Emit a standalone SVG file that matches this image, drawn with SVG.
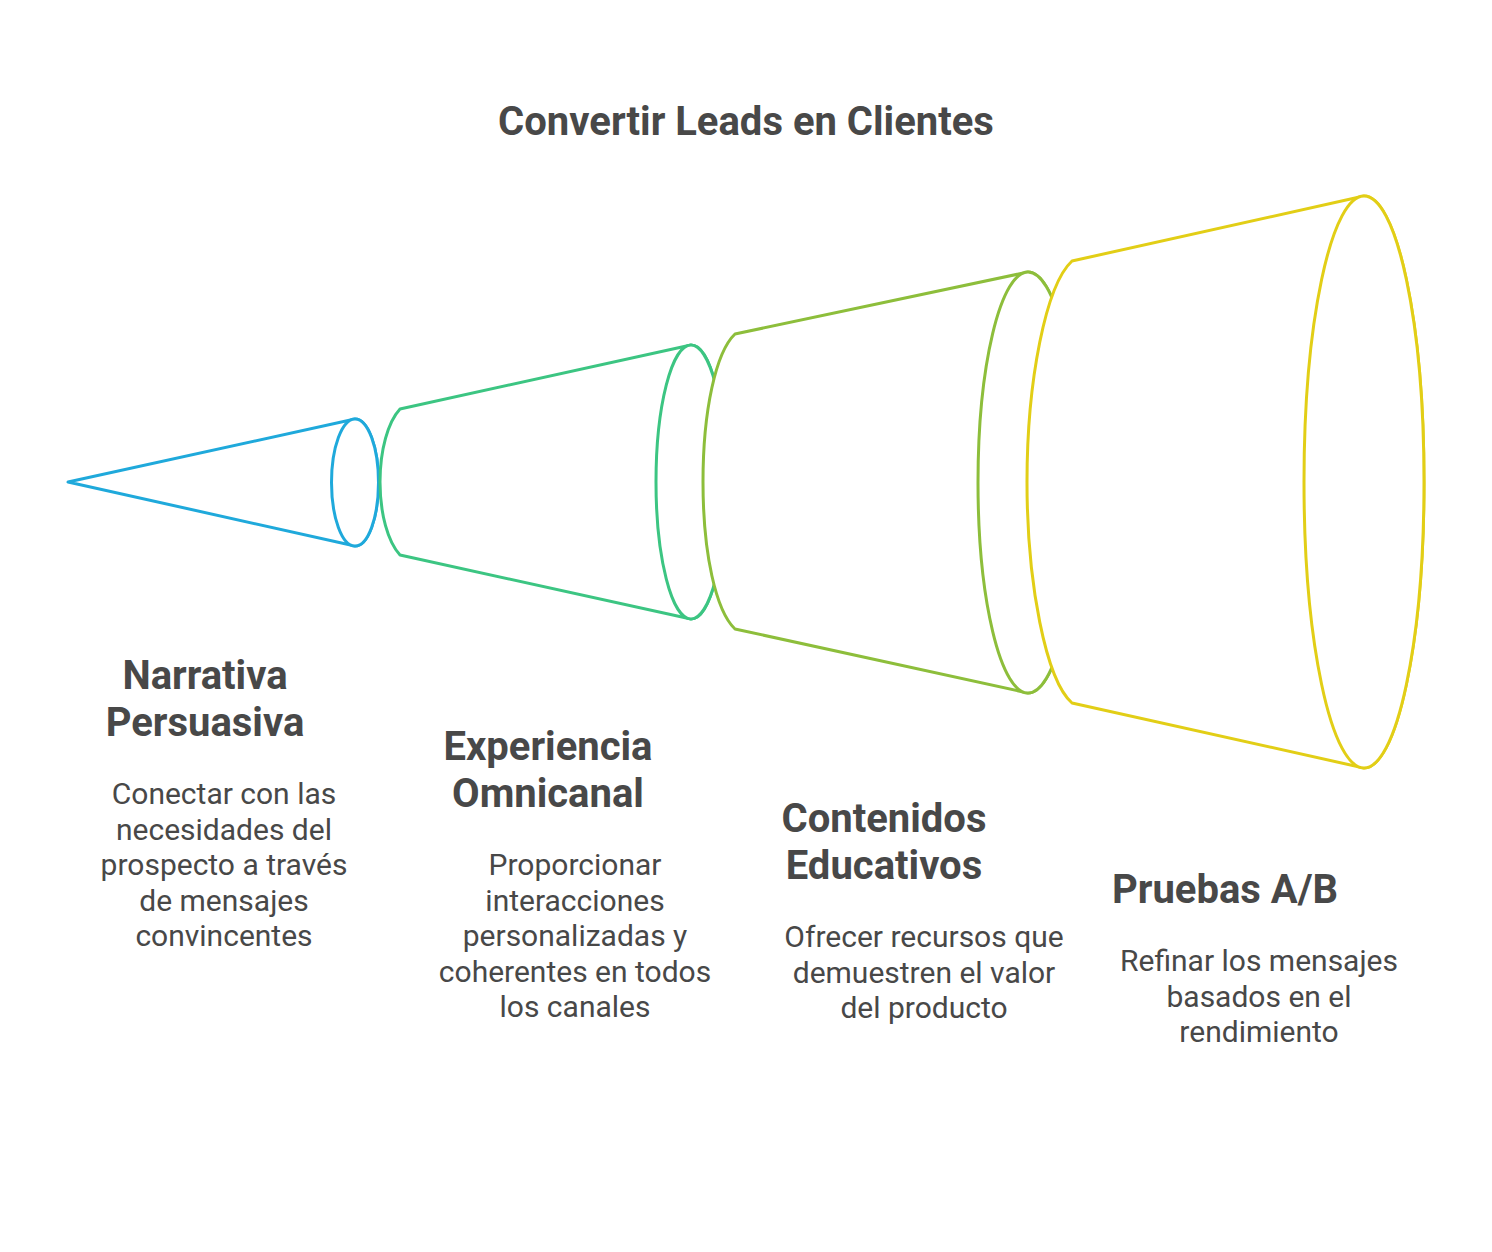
<svg xmlns="http://www.w3.org/2000/svg" width="1492" height="1252" viewBox="0 0 1492 1252">
<style>
.seg{fill:#ffffff;stroke-width:3;stroke-linejoin:round;stroke-linecap:round}
.s1{stroke:#1FA9DB}
.s2{stroke:#3CC582}
.s3{stroke:#8DBE3B}
.s4{stroke:#E2CE16}
.title{font-family:Roboto,"Liberation Sans",sans-serif;font-weight:700;font-size:40px;fill:#484848;text-anchor:middle}
.head{font-family:Roboto,"Liberation Sans",sans-serif;font-weight:700;font-size:40px;fill:#484848;text-anchor:middle}
.body{font-family:Roboto,"Liberation Sans",sans-serif;font-weight:400;font-size:30px;fill:#484848;text-anchor:middle}
</style>
<rect width="1492" height="1252" fill="#ffffff"/>
<text class="title" x="746" y="135">Convertir Leads en Clientes</text>
<g id="connectors">
<g id="stage1-shape">
<path class="seg s1" d="M68,482 L355,419 A23.5,63.5 0 0 1 355,546 Z"/>
<ellipse class="seg s1" cx="355" cy="482.5" rx="23.5" ry="63.5"/>
</g>
<g id="stage2-shape">
<path class="seg s2" d="M400,409 L691,345 A35,137 0 0 1 691,619 L400,555 C388,542 380,514 380,482 C380,450 388,422 400,409 Z"/>
<ellipse class="seg s2" cx="691" cy="482" rx="35" ry="137"/>
</g>
<g id="stage3-shape">
<path class="seg s3" d="M735,334 L1028,272 A50,210.5 0 0 1 1028,693 L735,629 C716,611 703,554 703,482 C703,410 716,352 735,334 Z"/>
<ellipse class="seg s3" cx="1028" cy="482.5" rx="50" ry="210.5"/>
</g>
<g id="stage4-shape">
<path class="seg s4" d="M1072,261 L1364,196 A60,286 0 0 1 1364,768 L1072,703 C1046,680 1027,584 1027,482 C1027,380 1046,285 1072,261 Z"/>
<ellipse class="seg s4" cx="1364" cy="482" rx="60" ry="286"/>
</g>
</g>
<g id="node-narrativa">
<text class="head" x="205" y="689">Narrativa</text>
<text class="head" x="205" y="736">Persuasiva</text>
<text class="body" x="224" y="804">Conectar con las</text>
<text class="body" x="224" y="839.5">necesidades del</text>
<text class="body" x="224" y="875">prospecto a través</text>
<text class="body" x="224" y="910.5">de mensajes</text>
<text class="body" x="224" y="946">convincentes</text>
</g>
<g id="node-experiencia">
<text class="head" x="548" y="760">Experiencia</text>
<text class="head" x="548" y="807">Omnicanal</text>
<text class="body" x="575" y="875">Proporcionar</text>
<text class="body" x="575" y="910.5">interacciones</text>
<text class="body" x="575" y="946">personalizadas y</text>
<text class="body" x="575" y="981.5">coherentes en todos</text>
<text class="body" x="575" y="1017">los canales</text>
</g>
<g id="node-contenidos">
<text class="head" x="884" y="832">Contenidos</text>
<text class="head" x="884" y="879">Educativos</text>
<text class="body" x="924" y="947">Ofrecer recursos que</text>
<text class="body" x="924" y="982.5">demuestren el valor</text>
<text class="body" x="924" y="1018">del producto</text>
</g>
<g id="node-pruebas">
<text class="head" x="1225" y="903">Pruebas A/B</text>
<text class="body" x="1259" y="971">Refinar los mensajes</text>
<text class="body" x="1259" y="1006.5">basados en el</text>
<text class="body" x="1259" y="1042">rendimiento</text>
</g>
</svg>
